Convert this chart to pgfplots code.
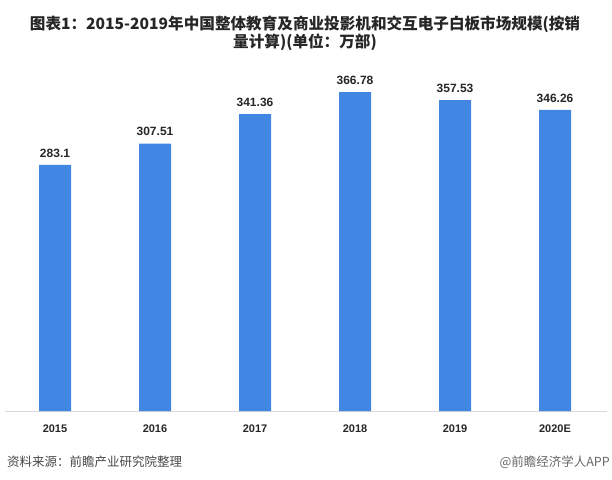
\documentclass[border=0pt]{standalone}
\usepackage{pgfplots}
\pgfplotsset{compat=1.18}
\usepackage{fontspec}
\setmainfont{Liberation Sans}
\newfontfamily\cjk{Noto Sans CJK SC}
\definecolor{barblue}{RGB}{64,134,226}
\definecolor{axisgray}{RGB}{217,217,217}
\definecolor{txt}{RGB}{38,38,38}
\begin{document}
\begin{tikzpicture}
\path[use as bounding box] (0,0) rectangle (612pt,479pt);
\begin{axis}[
  at={(5pt,68pt)}, anchor=south west,
  scale only axis, width=602pt, height=347.8pt,
  xmin=-0.5, xmax=5.52, ymin=0, ymax=400,
  axis y line=none,
  axis x line*=bottom,
  x axis line style={draw=axisgray, line width=1pt, -},
  xtick=data,
  xticklabels={2015,2016,2017,2018,2019,2020E},
  xtick style={draw=none},
  x tick label style={font=\fontsize{11}{13}\selectfont\bfseries, text=txt, yshift=-6pt},
  ybar, bar width=32pt,
  nodes near coords,
  point meta=explicit symbolic,
  every node near coord/.append style={font=\fontsize{12}{14}\selectfont\bfseries, text=txt, yshift=4pt},
]
\addplot[fill=barblue, draw=none] coordinates {
 (0,283.1) [283.1]
 (1,307.51) [307.51]
 (2,341.36) [341.36]
 (3,366.78) [366.78]
 (4,357.53) [357.53]
 (5,346.26) [346.26]
};
\end{axis}
\node[text=txt, font=\cjk\bfseries\fontsize{15.6}{18}\selectfont, anchor=center] at (305pt,455pt) {图表1：2015-2019年中国整体教育及商业投影机和交互电子白板市场规模(按销};
\node[text=txt, font=\cjk\bfseries\fontsize{15.6}{18}\selectfont, anchor=center] at (305pt,437pt) {量计算)(单位：万部)};
\node[text=txt!85, font=\cjk\fontsize{12.5}{14}\selectfont, anchor=west, inner sep=0pt] at (7pt,17pt) {资料来源：前瞻产业研究院整理};
\node[text=txt!70, font=\cjk\fontsize{12.5}{14}\selectfont, anchor=east, inner sep=0pt] at (610pt,17pt) {@前瞻经济学人APP};
\end{tikzpicture}
\end{document}
